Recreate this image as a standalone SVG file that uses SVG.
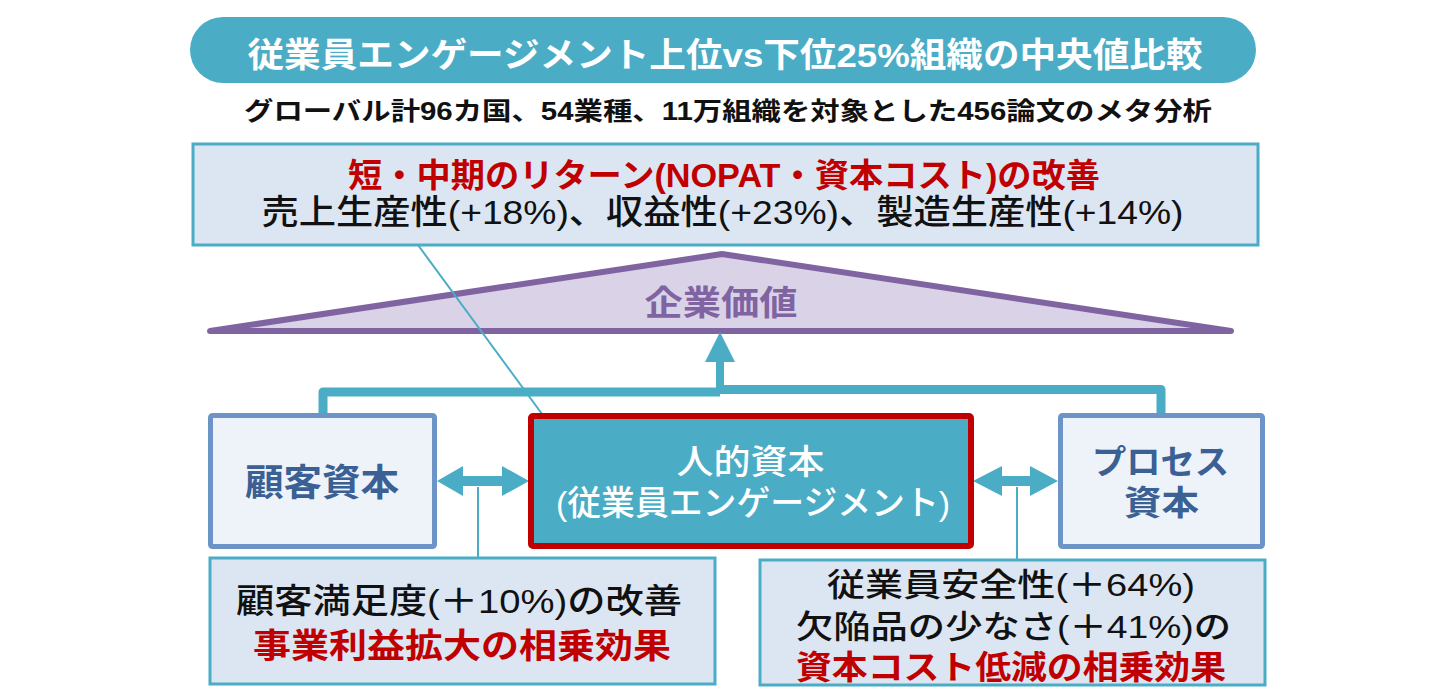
<svg xmlns="http://www.w3.org/2000/svg" width="1440" height="700" viewBox="0 0 1440 700">
<style>
text{font-family:"Liberation Sans","Noto Sans CJK JP",sans-serif;text-anchor:middle}
.b{font-weight:700}
.m{font-weight:500}
.red{fill:#C00000}
.blk{fill:#111111}
.wht{fill:#FFFFFF}
.nav{fill:#3A6094}
.pur{fill:#8064A2}
.info{fill:#DCE6F2;stroke:#4BACC6;stroke-width:3}
.cap{fill:#EEF3F9;stroke:#6D94C6;stroke-width:5}
.conn{fill:none;stroke:#4BACC6;stroke-linejoin:round}
.arr{fill:#4BACC6}
</style>
<rect width="1440" height="700" fill="#FFFFFF"/>
<g id="title">
<rect x="190" y="17" width="1066" height="66" rx="33" fill="#4BACC6"/>
<text class="b wht" x="725" y="67" font-size="34" textLength="955" lengthAdjust="spacingAndGlyphs">従業員エンゲージメント上位vs下位25%組織の中央値比較</text>
</g>
<g id="subtitle">
<text class="b blk" x="728" y="120" font-size="25" textLength="968" lengthAdjust="spacingAndGlyphs">グローバル計96カ国、54業種、11万組織を対象とした456論文のメタ分析</text>
</g>
<g id="returns">
<rect class="info" x="193" y="144" width="1065" height="101"/>
<text class="b red" x="724" y="187" font-size="33" textLength="752" lengthAdjust="spacingAndGlyphs">短・中期のリターン(NOPAT・資本コスト)の改善</text>
<text class="m blk" x="722.5" y="224" font-size="34" textLength="922" lengthAdjust="spacingAndGlyphs">売上生産性(+18%)、収益性(+23%)、製造生産性(+14%)</text>
</g>
<g id="kigyou-kachi">
<polygon points="722,254 1231,331 210,331" fill="#DAD2E6" stroke="#8064A2" stroke-width="6" stroke-linejoin="round"/>
<text class="b pur" x="721" y="315" font-size="34" textLength="153" lengthAdjust="spacingAndGlyphs">企業価値</text>
</g>
<g id="connectors">
<line x1="418" y1="245" x2="542" y2="414" stroke="#4BACC6" stroke-width="2"/>
<path class="conn" d="M323,414 V392 H720" stroke-width="9"/>
<path class="conn" d="M716,389.5 H1161 V414" stroke-width="9"/>
<rect class="arr" x="716" y="358" width="8" height="32"/>
<polygon class="arr" points="720,332 705,362 735,362"/>
<polygon class="arr" points="437,481 463,466 463,476 502,476 502,466 529,481 502,496 502,486 463,486 463,496"/>
<polygon class="arr" points="973,481 1002,466 1002,476 1030,476 1030,466 1058,481 1030,496 1030,486 1002,486 1002,496"/>
<line x1="478" y1="487" x2="478" y2="557" stroke="#4BACC6" stroke-width="2"/>
<line x1="1017" y1="487" x2="1017" y2="559" stroke="#4BACC6" stroke-width="2"/>
</g>
<g id="customer-capital">
<rect class="cap" x="210.5" y="415.5" width="224" height="131" rx="2"/>
<text class="b nav" x="322" y="496" font-size="37" textLength="154" lengthAdjust="spacingAndGlyphs">顧客資本</text>
</g>
<g id="human-capital">
<rect x="531" y="416" width="440" height="130" rx="2" fill="#4BACC6" stroke="#C00000" stroke-width="6"/>
<text class="m wht" x="750.5" y="474" font-size="34" textLength="148" lengthAdjust="spacingAndGlyphs">人的資本</text>
<text class="m wht" x="753" y="515" font-size="34" textLength="394" lengthAdjust="spacingAndGlyphs">(従業員エンゲージメント)</text>
</g>
<g id="process-capital">
<rect class="cap" x="1060.5" y="415.5" width="202" height="131" rx="2"/>
<text class="b nav" x="1160.5" y="474" font-size="34" textLength="137" lengthAdjust="spacingAndGlyphs">プロセス</text>
<text class="b nav" x="1161.5" y="515" font-size="34" textLength="75" lengthAdjust="spacingAndGlyphs">資本</text>
</g>
<g id="customer-effect">
<rect class="info" x="210" y="558" width="505" height="126"/>
<text class="m blk" x="459" y="613" font-size="34" textLength="446" lengthAdjust="spacingAndGlyphs">顧客満足度(＋10%)の改善</text>
<text class="b red" x="462" y="658" font-size="34" textLength="418" lengthAdjust="spacingAndGlyphs">事業利益拡大の相乗効果</text>
</g>
<g id="process-effect">
<rect class="info" x="760" y="560" width="505" height="125"/>
<text class="m blk" x="1011" y="596" font-size="32" textLength="368" lengthAdjust="spacingAndGlyphs">従業員安全性(＋64%)</text>
<text class="m blk" x="1013.5" y="638" font-size="32" textLength="435" lengthAdjust="spacingAndGlyphs">欠陥品の少なさ(＋41%)の</text>
<text class="b red" x="1011" y="679" font-size="33" textLength="430" lengthAdjust="spacingAndGlyphs">資本コスト低減の相乗効果</text>
</g>
</svg>
